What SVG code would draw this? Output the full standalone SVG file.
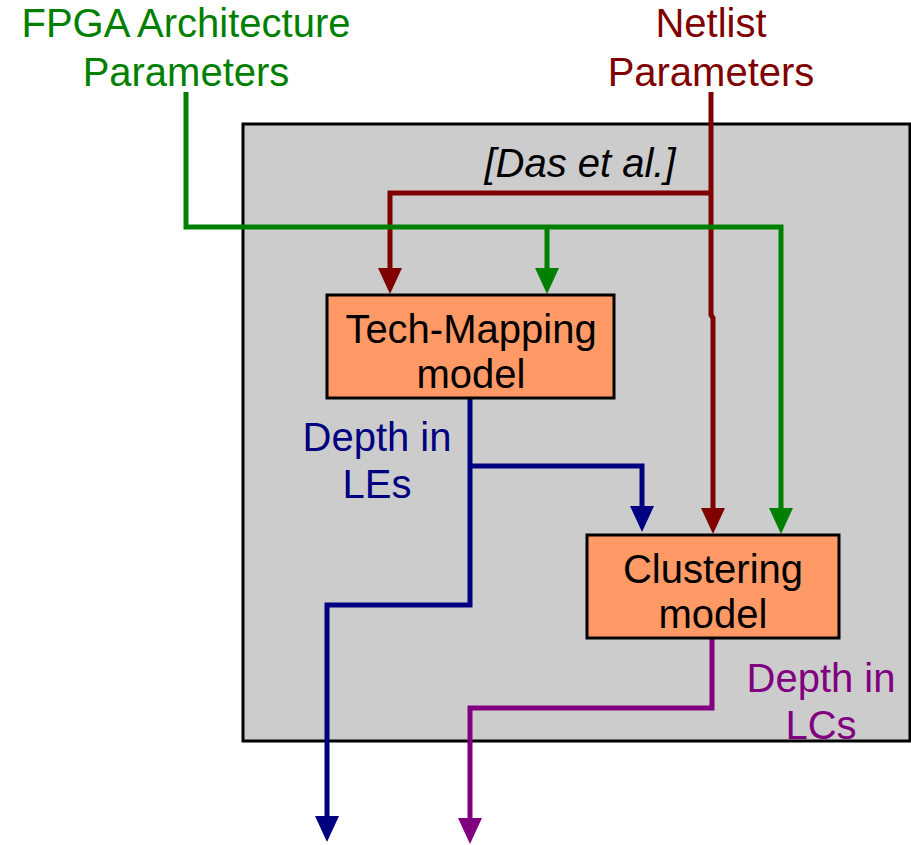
<svg xmlns="http://www.w3.org/2000/svg" width="911" height="845" viewBox="0 0 911 845">
<style>
  text { font-family: "Liberation Sans", Arial, sans-serif; font-size: 40px; text-anchor: middle; }
  .box { fill: #FF9966; stroke: #000; stroke-width: 3; }
  .wire { fill: none; stroke-width: 5; stroke-linejoin: miter; }
</style>
<defs>
  <marker id="aG" markerUnits="userSpaceOnUse" markerWidth="26" markerHeight="24" viewBox="0 0 26 24" refX="1" refY="12" orient="auto"><path d="M0,0 L26,12 L0,24 z" fill="#008000"/></marker>
  <marker id="aR" markerUnits="userSpaceOnUse" markerWidth="26" markerHeight="24" viewBox="0 0 26 24" refX="1" refY="12" orient="auto"><path d="M0,0 L26,12 L0,24 z" fill="#800000"/></marker>
  <marker id="aB" markerUnits="userSpaceOnUse" markerWidth="26" markerHeight="24" viewBox="0 0 26 24" refX="1" refY="12" orient="auto"><path d="M0,0 L26,12 L0,24 z" fill="#000080"/></marker>
  <marker id="aP" markerUnits="userSpaceOnUse" markerWidth="26" markerHeight="24" viewBox="0 0 26 24" refX="1" refY="12" orient="auto"><path d="M0,0 L26,12 L0,24 z" fill="#800080"/></marker>
</defs>
<rect id="container" x="243" y="124" width="667" height="617" fill="#CCCCCC" stroke="#000" stroke-width="3"/>
<g id="labels">
  <text x="186" y="37" fill="#008000">FPGA Architecture</text>
  <text x="186" y="86" fill="#008000">Parameters</text>
  <text x="711" y="37" fill="#800000">Netlist</text>
  <text x="711" y="86" fill="#800000">Parameters</text>
  <text x="580" y="177" font-style="italic" fill="#000">[Das et al.]</text>
  <text x="377" y="451" fill="#000080">Depth in</text>
  <text x="377" y="498" fill="#000080">LEs</text>
  <text x="821" y="692" fill="#800080">Depth in</text>
  <text x="821" y="739" fill="#800080">LCs</text>
</g>
<g id="connectors">
  <path class="wire" stroke="#800000" d="M711,92 V315 L713,318 V509" marker-end="url(#aR)"/>
  <path class="wire" stroke="#800000" d="M711,193 H390 V269" marker-end="url(#aR)"/>
  <path class="wire" stroke="#008000" d="M186,92 V227 H781 V509" marker-end="url(#aG)"/>
  <path class="wire" stroke="#008000" d="M547,227 V269" marker-end="url(#aG)"/>
  <path class="wire" stroke="#000080" d="M470,398 V605 H327 V817" marker-end="url(#aB)"/>
  <path class="wire" stroke="#000080" d="M470,466 H642 V507" marker-end="url(#aB)"/>
  <path class="wire" stroke="#800080" d="M712,638 V708 H470 V819" marker-end="url(#aP)"/>
</g>
<g id="techmap">
  <rect class="box" x="327" y="295" width="287" height="103"/>
  <text x="471" y="343">Tech-Mapping</text>
  <text x="471" y="388">model</text>
</g>
<g id="clustering">
  <rect class="box" x="587" y="535" width="252" height="103"/>
  <text x="713" y="583">Clustering</text>
  <text x="713" y="628">model</text>
</g>
</svg>
